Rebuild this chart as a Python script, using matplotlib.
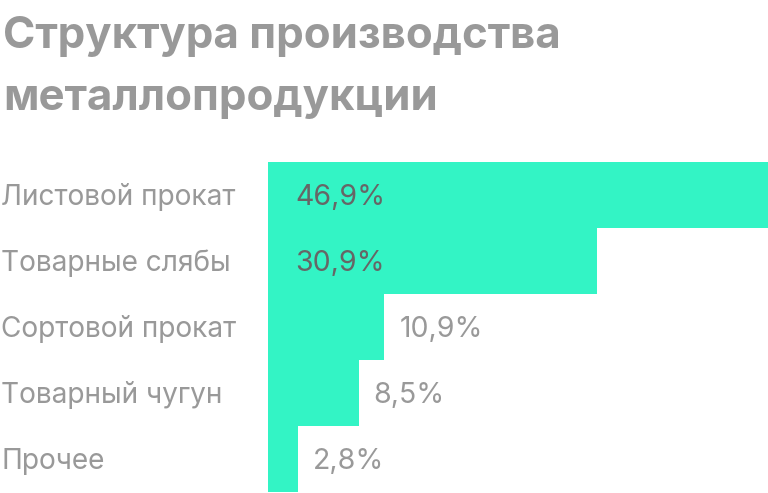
import matplotlib
matplotlib.use("Agg")
import matplotlib.pyplot as plt

plt.rcParams["font.family"] = ["Inter", "DejaVu Sans"]

# данные
categories = ["Листовой прокат", "Товарные слябы", "Сортовой прокат", "Товарный чугун", "Прочее"]
values = [46.9, 30.9, 10.9, 8.5, 2.8]
value_labels = ["46,9%", "30,9%", "10,9%", "8,5%", "2,8%"]
title_lines = ["Структура производства", "металлопродукции"]

BAR_COLOR = "#33F4C5"
GRAY = "#999999"
DARK = "#666666"

W, H = 768, 493
fig = plt.figure(figsize=(W / 100, H / 100), dpi=100)

# область столбцов в пикселях
left, right, top, bottom = 268, 768, 162, 492
ax = fig.add_axes([left / W, 1 - bottom / H, (right - left) / W, (bottom - top) / H])
n = len(values)
ypos = list(range(n))
ax.barh(ypos, values, height=1.0, color=BAR_COLOR, linewidth=0)
ax.set_xlim(0, max(values))
ax.set_ylim(n - 0.5, -0.5)
ax.axis("off")

for i, (cat, v, lab) in enumerate(zip(categories, values, value_labels)):
    # подпись категории слева
    ax.annotate(cat, xy=(0, i), xycoords=("figure pixels", "data"),
                xytext=(1, -10), textcoords="offset pixels",
                ha="left", va="baseline", fontsize=20.2, color=GRAY)
    if v > 20:
        ax.annotate(lab, xy=(0, i), xytext=(27, -10.5), textcoords="offset pixels",
                    ha="left", va="baseline", fontsize=20.5, color=DARK)
    else:
        ax.annotate(lab, xy=(v, i), xytext=(15, -10.5), textcoords="offset pixels",
                    ha="left", va="baseline", fontsize=20.5, color=GRAY)

fig.text(3 / W, 1 - 48 / H, title_lines[0], ha="left", va="baseline",
         fontsize=31.5, fontweight="bold", color=GRAY)
fig.text(3 / W, 1 - 110 / H, title_lines[1], ha="left", va="baseline",
         fontsize=31.5, fontweight="bold", color=GRAY)

fig.savefig("out.png", dpi=100, facecolor="white")
